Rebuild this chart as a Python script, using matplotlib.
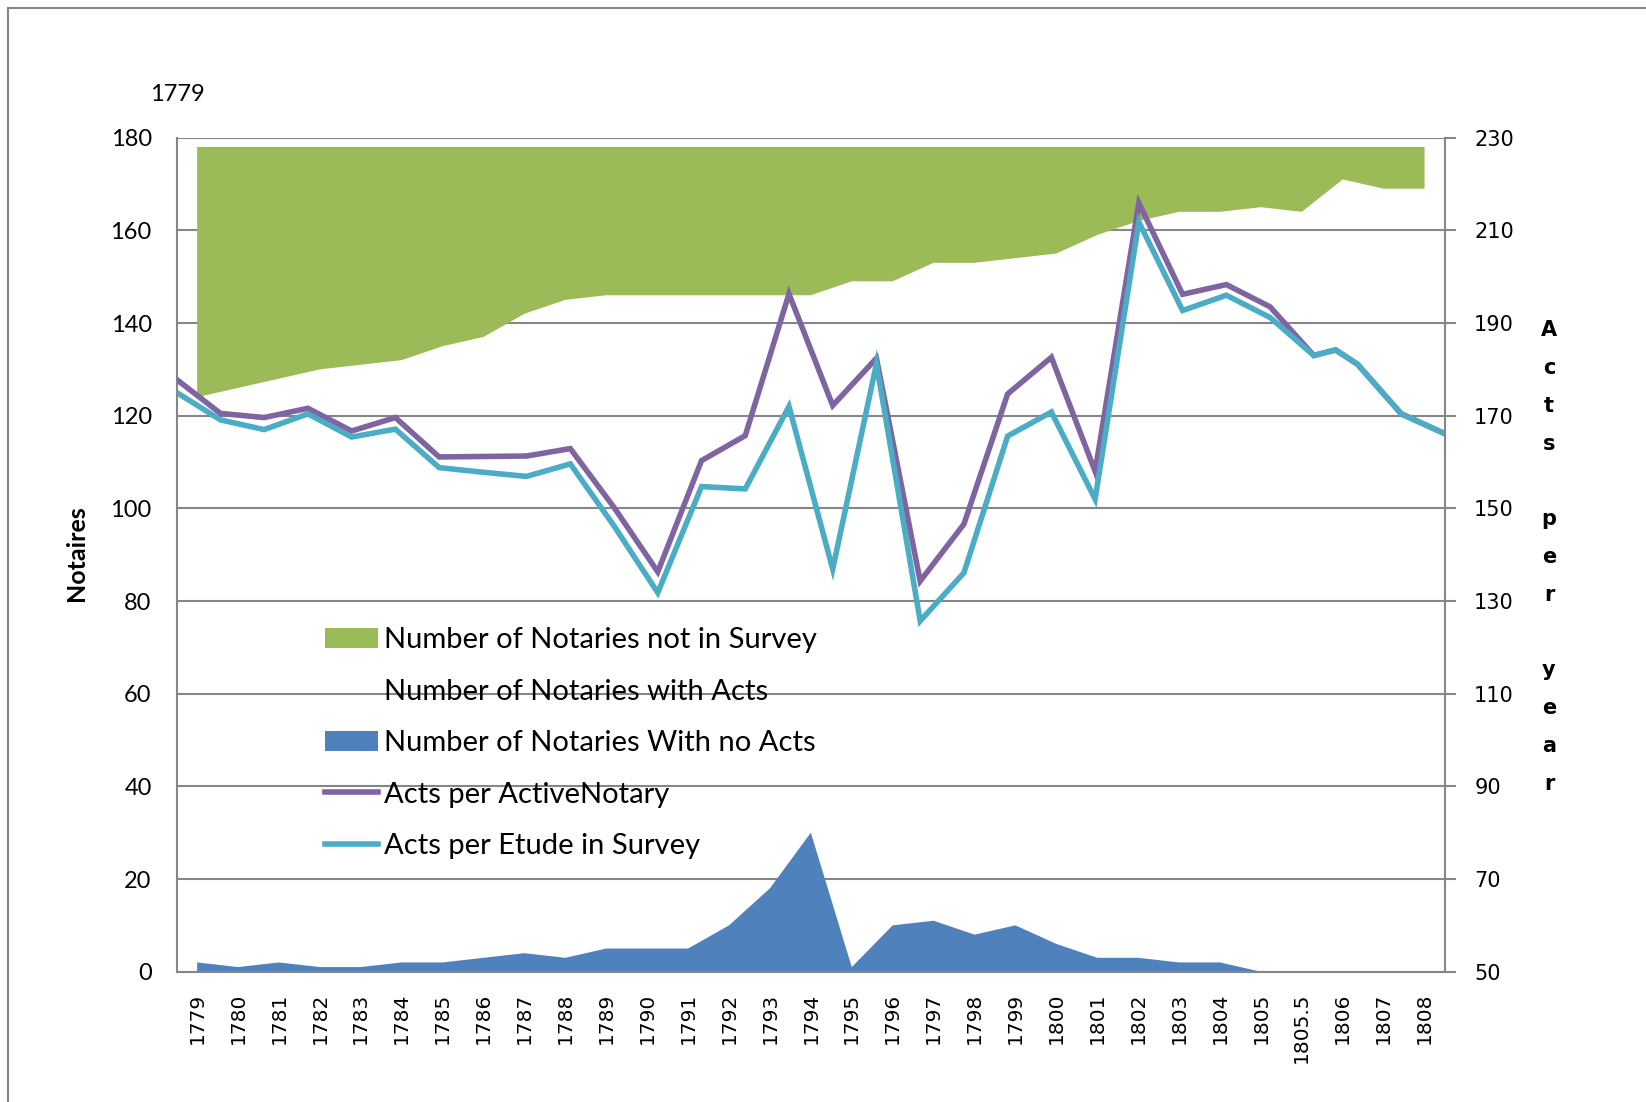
import numpy as np
import matplotlib.pyplot as plt
from matplotlib.lines import Line2D
from matplotlib.patches import Patch

# category labels (area chart) and numeric years (scatter lines)
year_labels = ["1779", "1780", "1781", "1782", "1783", "1784", "1785", "1786",
               "1787", "1788", "1789", "1790", "1791", "1792", "1793", "1794",
               "1795", "1796", "1797", "1798", "1799", "1800", "1801", "1802",
               "1803", "1804", "1805", "1805.5", "1806", "1807", "1808"]
years = [float(y) for y in year_labels]

# stacked areas (left axis, Notaires)
no_acts = [2, 1, 2, 1, 1, 2, 2, 3, 4, 3, 5, 5, 5, 10, 18, 30,
           1, 10, 11, 8, 10, 6, 3, 3, 2, 2, 0, 0, 0, 0, 0]
with_acts = [122, 125, 126, 129, 130, 130, 133, 134, 138, 142, 141, 141, 141, 136, 128, 116,
             148, 139, 142, 145, 144, 149, 156, 159, 162, 162, 165, 164, 171, 169, 169]
not_in_survey = [54, 52, 50, 48, 47, 46, 43, 41, 36, 33, 32, 32, 32, 32, 32, 32,
                 29, 29, 25, 25, 24, 23, 19, 16, 14, 14, 13, 14, 7, 9, 9]

# lines (right axis, acts per year)
per_active = [177.8, 170.5, 169.6, 171.6, 166.7, 169.6, 161.1, 161.2, 161.3, 162.9,
              150.2, 136.3, 160.3, 165.7, 196.3, 172.2, 182.4, 134.3, 146.6, 174.7,
              182.6, 158.0, 215.9, 196.2, 198.3, 193.5, 183.0, 184.2, 181.1, 170.4, 166.1]
per_etude = [175.0, 169.1, 167.0, 170.4, 165.4, 167.1, 158.8, 157.8, 156.9, 159.6,
             146.2, 131.8, 154.7, 154.2, 172.0, 136.9, 181.2, 125.7, 136.1, 165.6,
             170.8, 152.0, 211.8, 192.7, 196.0, 191.2, 183.0, 184.2, 181.1, 170.4, 166.1]

green = "#9BBB59"
blue = "#4F81BD"
purple = "#8064A2"
cyan = "#4BACC6"
grey = "#868686"

plt.rcParams['font.family'] = ['Lato', 'DejaVu Sans']

W, H = 1646, 1102
fig = plt.figure(figsize=(W / 100, H / 100), dpi=100)
rect = [176.7 / W, 1 - 971.7 / H, (1445 - 176.7) / W, (971.7 - 137.7) / H]

ax = fig.add_axes(rect)
x = np.arange(len(year_labels))
ax.stackplot(x, no_acts, with_acts, not_in_survey,
             colors=[blue, "none", green], linewidth=0)
ax.set_xlim(-0.5, len(year_labels) - 0.5)
ax.set_ylim(0, 180)
ax.set_yticks(range(0, 181, 20))
ax.set_xticks(x)
ax.set_xticklabels(year_labels, rotation=90, fontsize=14.5, family='DejaVu Sans')
ax.tick_params(axis='x', length=0, pad=15)
ax.tick_params(axis='y', length=0, pad=18, labelsize=17)
ax.yaxis.grid(True, color=grey, lw=1.5)
ax.set_axisbelow(True)
for s in ['left', 'bottom']:
    ax.spines[s].set_color(grey)
    ax.spines[s].set_linewidth(1.5)
ax.spines['top'].set_visible(False)
ax.spines['right'].set_visible(False)

ax2 = fig.add_axes(rect, facecolor='none')
ax2.plot(years, per_active, color=purple, lw=4, solid_joinstyle='miter')
ax2.plot(years, per_etude, color=cyan, lw=4, solid_joinstyle='miter')
ax2.set_xlim(1779, 1808)
ax2.set_ylim(50, 230)
ax2.set_yticks(range(50, 231, 20))
ax2.yaxis.tick_right()
ax2.xaxis.set_visible(False)
ax2.tick_params(axis='y', direction='out', length=8, width=1.5, color=grey,
                pad=13, labelsize=15, labelfontfamily='DejaVu Sans')
for s in ['left', 'top', 'bottom']:
    ax2.spines[s].set_visible(False)
ax2.spines['right'].set_color(grey)
ax2.spines['right'].set_linewidth(1.5)

fig.text(76.7 / W, 1 - 553 / H, "Notaires", rotation=90, fontsize=18,
         fontweight='bold', ha='center', va='center')
fig.text(1549 / W, 1 - 557 / H, "\n".join("Acts per year"), fontsize=15,
         fontweight='bold', family='DejaVu Sans', ha='center', va='center',
         linespacing=2.11)
fig.text(177.5 / W, 1 - 94.7 / H, "1779", fontsize=17, ha='center', va='center')

handles = [Patch(facecolor=green, edgecolor='none'),
           Patch(facecolor='none', edgecolor='none'),
           Patch(facecolor=blue, edgecolor='none'),
           Line2D([], [], color=purple, lw=4),
           Line2D([], [], color=cyan, lw=4)]
labels = ["Number of Notaries not in Survey", "Number of Notaries with Acts",
          "Number of Notaries With no Acts", "Acts per ActiveNotary",
          "Acts per Etude in Survey"]
fig.legend(handles, labels, loc='upper left', bbox_to_anchor=(325 / W, 1 - 627 / H),
           frameon=False, fontsize=21, borderpad=0, borderaxespad=0,
           handlelength=1.8, handletextpad=0.22, labelspacing=0.875)

# outer frame of the chart area
fig.add_artist(Line2D([8 / W, 8 / W], [0, 1 - 8 / H], color=grey, lw=1.5))
fig.add_artist(Line2D([8 / W, 1], [1 - 8 / H, 1 - 8 / H], color=grey, lw=1.5))

fig.savefig("out.png", dpi=100)
